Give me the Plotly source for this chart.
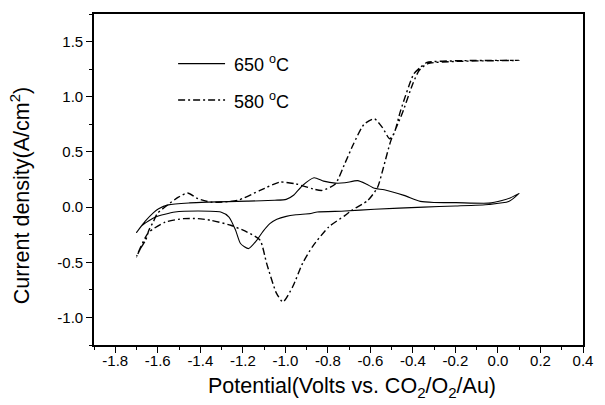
import plotly.graph_objects as go

# 650 °C cyclic voltammogram (solid): forward scan then reverse scan
v650 = [-1.70, -1.66, -1.62, -1.596, -1.55, -1.45, -1.365, -1.18, -1.05, -0.996, -0.96, -0.919,
        -0.865, -0.82, -0.765, -0.72, -0.66, -0.62, -0.581, -0.535, -0.442, -0.365, -0.30, -0.197,
        -0.043, 0.019, 0.06, 0.10,
        0.05, -0.043, -0.20, -0.35, -0.581, -0.72, -0.85, -0.88, -0.95, -0.996, -1.04, -1.073,
        -1.105, -1.134, -1.173, -1.211, -1.234, -1.265, -1.304, -1.411, -1.519, -1.611, -1.673, -1.70]
i650 = [-0.23, -0.13, -0.05, -0.015, 0.02, 0.038, 0.045, 0.054, 0.062, 0.07, 0.11, 0.196,
        0.266, 0.235, 0.217, 0.22, 0.24, 0.21, 0.17, 0.157, 0.106, 0.052, 0.042, 0.04,
        0.036, 0.06, 0.085, 0.125,
        0.05, 0.024, 0.01, 0.0, -0.02, -0.036, -0.045, -0.058, -0.07, -0.084, -0.11, -0.15,
        -0.22, -0.30, -0.376, -0.33, -0.21, -0.09, -0.045, -0.036, -0.045, -0.09, -0.165, -0.23]

# 580 °C cyclic voltammogram (dash-dot)
v580 = [-1.70, -1.68, -1.657, -1.642, -1.62, -1.603, -1.557, -1.503, -1.46, -1.411, -1.35, -1.227,
        -1.119, -1.027, -0.95, -0.87, -0.827, -0.765, -0.719, -0.68, -0.63, -0.581, -0.543, -0.51, -0.49,
        -0.458, -0.396, -0.365, -0.334, -0.197, 0.10,
        -0.20, -0.33, -0.37, -0.40, -0.45, -0.504, -0.54, -0.566, -0.612, -0.688, -0.719, -0.796,
        -0.873, -0.919, -0.965, -1.011, -1.042, -1.088, -1.119, -1.18, -1.257, -1.35, -1.411,
        -1.48, -1.565, -1.642, -1.657, -1.68, -1.70]
i580 = [-0.45, -0.37, -0.30, -0.21, -0.13, -0.06, 0.015, 0.09, 0.127, 0.076, 0.045, 0.06,
        0.151, 0.226, 0.21, 0.165, 0.151, 0.21, 0.40, 0.57, 0.75, 0.80, 0.72, 0.62, 0.66,
        0.874, 1.206, 1.266, 1.311, 1.326, 1.33,
        1.32, 1.30, 1.24, 1.12, 0.85, 0.60, 0.35, 0.18, 0.06, -0.03, -0.075, -0.18,
        -0.36, -0.51, -0.72, -0.86, -0.78, -0.51, -0.30, -0.226, -0.165, -0.12, -0.105,
        -0.105, -0.136, -0.226, -0.27, -0.36, -0.45]

series_names = ["650 <sup>o</sup>C", "580 <sup>o</sup>C"]
x_title = "Potential(Volts vs. CO<sub>2</sub>/O<sub>2</sub>/Au)"
y_title = "Current density(A/cm<sup>2</sup>)"

x_tickvals = [-1.8, -1.6, -1.4, -1.2, -1.0, -0.8, -0.6, -0.4, -0.2, 0.0, 0.2, 0.4]
x_ticktext = ["-1.8", "-1.6", "-1.4", "-1.2", "-1.0", "-0.8", "-0.6", "-0.4", "-0.2", "0.0", "0.2", "0.4"]
y_tickvals = [-1.0, -0.5, 0.0, 0.5, 1.0, 1.5]
y_ticktext = ["-1.0", "-0.5", "0.0", "0.5", "1.0", "1.5"]
x_minor = [round(-1.9 + 0.1 * k, 2) for k in range(0, 24)]
y_minor = [round(-1.25 + 0.25 * k, 2) for k in range(0, 13)]

FONT = "Liberation Sans, Arial, sans-serif"
DASHDOT = "7px,3px,2px,3px"

fig = go.Figure()
fig.add_trace(go.Scatter(x=v650, y=i650, mode="lines", name=series_names[0], showlegend=False,
                         line=dict(color="black", width=1.1, shape="spline", smoothing=0.6)))
fig.add_trace(go.Scatter(x=v580, y=i580, mode="lines", name=series_names[1], showlegend=False,
                         line=dict(color="black", width=1.4, dash=DASHDOT,
                                   shape="spline", smoothing=0.6)))

axis_common = dict(showline=True, linecolor="black", linewidth=1.6, mirror=True,
                   ticks="outside", ticklen=6, tickwidth=1.4, tickcolor="black",
                   showgrid=False, zeroline=False,
                   tickfont=dict(family=FONT, size=15, color="black"))

fig.update_xaxes(range=[-1.9, 0.4], tickmode="array", tickvals=x_tickvals, ticktext=x_ticktext,
                 ticklabelstandoff=-5,
                 minor=dict(tickmode="array", tickvals=x_minor, ticks="outside", ticklen=3,
                            tickwidth=1.2, tickcolor="black", showgrid=False),
                 **axis_common)
fig.update_yaxes(range=[-1.25, 1.75], tickmode="array", tickvals=y_tickvals, ticktext=y_ticktext,
                 minor=dict(tickmode="array", tickvals=y_minor, ticks="outside", ticklen=3,
                            tickwidth=1.2, tickcolor="black", showgrid=False),
                 **axis_common)

# Legend (manual, positioned in paper coordinates)
leg_x0, leg_x1, leg_tx = 0.172, 0.268, 0.283
leg_y = [0.850, 0.740]
leg_dash = ["solid", DASHDOT]
leg_w = [1.1, 1.4]
for name, yy, dsh, w in zip(series_names, leg_y, leg_dash, leg_w):
    fig.add_shape(type="line", xref="paper", yref="paper", x0=leg_x0, x1=leg_x1, y0=yy, y1=yy,
                  line=dict(color="black", width=w, dash=dsh))
    fig.add_annotation(xref="paper", yref="paper", x=leg_tx, y=yy, text=name, showarrow=False,
                       xanchor="left", yanchor="middle",
                       font=dict(family=FONT, size=18, color="black"))

# Axis titles
fig.add_annotation(xref="paper", yref="paper", x=0.527, y=-0.128, text=x_title, showarrow=False,
                   xanchor="center", yanchor="middle",
                   font=dict(family=FONT, size=21.5, color="black"))
fig.add_annotation(xref="paper", yref="paper", x=-0.151, y=0.45, text=y_title, showarrow=False,
                   xanchor="center", yanchor="middle", textangle=-90,
                   font=dict(family=FONT, size=21.5, color="black"))

fig.update_layout(
    width=605, height=405,
    margin=dict(l=94, r=12, t=14, b=60),
    paper_bgcolor="white", plot_bgcolor="white",
    showlegend=False,
)

fig.write_html("out.html")
